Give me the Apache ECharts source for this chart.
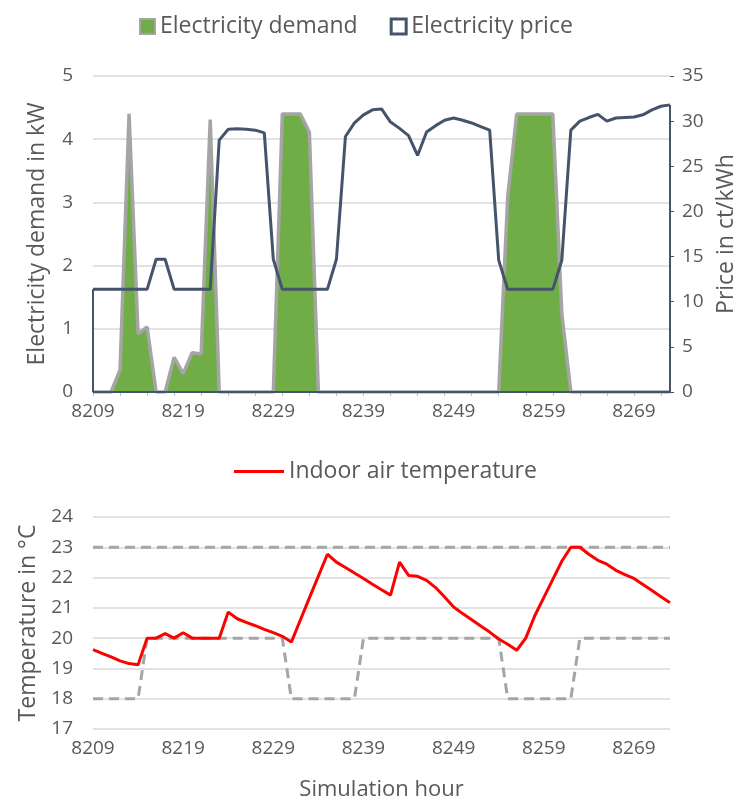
<!DOCTYPE html>
<html>
<head>
<meta charset="utf-8">
<script src="https://cdn.jsdelivr.net/npm/echarts@6/dist/echarts.min.js"></script>
<style>
html,body{margin:0;padding:0;background:#fff;}
#chart{width:752px;height:802px;}
</style>
</head>
<body>
<div id="chart"></div>
<script>
// ---- data ----
const firstHour = 8209;
const lastHour = 8273;
const hours = [];
for (let h = firstHour; h <= lastHour; h++) hours.push(String(h));

// Electricity demand in kW (8209..8273)
const demand = [
  0, 0, 0, 0.35, 4.40, 0.92, 1.03, 0, 0, 0.55,
  0.29, 0.62, 0.60, 4.31, 0, 0, 0, 0, 0, 0,
  0, 4.40, 4.40, 4.40, 4.11, 0, 0, 0, 0, 0,
  0, 0, 0, 0, 0, 0, 0, 0, 0, 0,
  0, 0, 0, 0, 0, 0, 3.09, 4.40, 4.40, 4.40,
  4.40, 4.40, 1.24, 0, 0, 0, 0, 0, 0, 0,
  0, 0, 0, 0, 0
];

// Electricity price in ct/kWh
const price = [
  11.37, 11.37, 11.37, 11.37, 11.37, 11.37, 11.37, 14.7, 14.7, 11.37,
  11.37, 11.37, 11.37, 11.37, 27.9, 29.1, 29.15, 29.1, 29.0, 28.7,
  14.7, 11.37, 11.37, 11.37, 11.37, 11.37, 11.37, 14.7, 28.3, 29.8,
  30.7, 31.25, 31.35, 29.9, 29.2, 28.4, 26.2, 28.8, 29.5, 30.1,
  30.35, 30.1, 29.8, 29.4, 29.0, 14.6, 11.37, 11.37, 11.37, 11.37,
  11.37, 11.37, 14.6, 29.0, 30.0, 30.4, 30.75, 30.0, 30.35, 30.4,
  30.45, 30.7, 31.25, 31.65, 31.8
];

// Indoor air temperature in °C
const temperature = [
  19.62, 19.5, 19.38, 19.25, 19.16, 19.12, 20.0, 20.0, 20.15, 20.0,
  20.18, 20.0, 20.0, 20.0, 20.0, 20.86, 20.64, 20.52, 20.41, 20.29,
  20.18, 20.06, 19.87, 20.6, 21.33, 22.05, 22.77, 22.51, 22.33, 22.15,
  21.97, 21.78, 21.6, 21.42, 22.51, 22.07, 22.04, 21.91, 21.67, 21.36,
  21.03, 20.81, 20.61, 20.4, 20.2, 19.97, 19.8, 19.6, 20.0, 20.74,
  21.34, 21.94, 22.54, 23.0, 23.0, 22.77, 22.57, 22.44, 22.24, 22.1,
  21.97, 21.77, 21.57, 21.37, 21.17
];

// Comfort band bounds in °C
const upperBound = [
  23, 23, 23, 23, 23, 23, 23, 23, 23, 23,
  23, 23, 23, 23, 23, 23, 23, 23, 23, 23,
  23, 23, 23, 23, 23, 23, 23, 23, 23, 23,
  23, 23, 23, 23, 23, 23, 23, 23, 23, 23,
  23, 23, 23, 23, 23, 23, 23, 23, 23, 23,
  23, 23, 23, 23, 23, 23, 23, 23, 23, 23,
  23, 23, 23, 23, 23
];
const lowerBound = [
  18, 18, 18, 18, 18, 18, 20, 20, 20, 20,
  20, 20, 20, 20, 20, 20, 20, 20, 20, 20,
  20, 20, 18, 18, 18, 18, 18, 18, 18, 18,
  20, 20, 20, 20, 20, 20, 20, 20, 20, 20,
  20, 20, 20, 20, 20, 20, 18, 18, 18, 18,
  18, 18, 18, 18, 20, 20, 20, 20, 20, 20,
  20, 20, 20, 20, 20
];

const demandTicks = [0, 5, 1];      // min, max, interval
const priceTicks = [0, 35, 5];
const tempTicks = [17, 24, 1];

// ---- chart ----
const FONT = 'Open Sans';
const TXT = '#595959';
const GRID = '#D9D9D9';
const NAVY = '#44546A';
const chart = echarts.init(document.getElementById('chart'), null, {renderer: 'canvas'});

const lastIdx = hours.length - 1;

chart.setOption({
  animation: false,
  textStyle: {fontFamily: FONT, color: TXT},
  legend: [
    {
      left: 134, top: 10,
      itemWidth: 15, itemHeight: 15, itemGap: 32,
      icon: 'rect',
      textStyle: {fontFamily: FONT, fontSize: 23, color: TXT},
      data: [
        {name: 'Electricity demand', itemStyle: {color: '#70AD47', borderColor: '#A5A5A5', borderWidth: 2}},
        {name: 'Electricity price', itemStyle: {color: '#ffffff', borderColor: NAVY, borderWidth: 3}}
      ]
    },
    {
      left: 229, top: 455,
      itemWidth: 50, itemHeight: 14,
      textStyle: {fontFamily: FONT, fontSize: 23, color: TXT},
      data: [{name: 'Indoor air temperature', icon: 'path://M0,6 L50,6 L50,9 L0,9 Z', itemStyle: {color: '#FF0000'}}]
    }
  ],
  grid: [
    {left: 93, right: 82, top: 76, height: 316},
    {left: 93, right: 82, top: 517, height: 212}
  ],
  xAxis: [
    {
      type: 'category', gridIndex: 0, data: hours, boundaryGap: false,
      axisLine: {lineStyle: {color: '#6B7A90', width: 1.5}},
      axisTick: {show: true, interval: 2, length: 4, lineStyle: {color: '#BFBFBF', width: 1}},
      axisLabel: {interval: 9, fontSize: 19, color: TXT, margin: 10, fontFamily: FONT},
      splitLine: {show: false}
    },
    {
      type: 'category', gridIndex: 1, data: hours, boundaryGap: false,
      axisLine: {show: false},
      axisTick: {show: false},
      axisLabel: {interval: 9, fontSize: 19, color: TXT, margin: 10, fontFamily: FONT},
      splitLine: {show: false},
      name: 'Simulation hour', nameLocation: 'middle', nameGap: 50,
      nameTextStyle: {fontSize: 22, color: TXT, fontFamily: FONT}
    }
  ],
  yAxis: [
    {
      type: 'value', gridIndex: 0, position: 'left',
      min: demandTicks[0], max: demandTicks[1], interval: demandTicks[2],
      axisLine: {show: false}, axisTick: {show: false},
      axisLabel: {fontSize: 19, color: TXT, margin: 20, fontFamily: FONT},
      splitLine: {lineStyle: {color: GRID, width: 1.5}},
      name: 'Electricity demand in kW', nameLocation: 'middle', nameGap: 44,
      nameTextStyle: {fontSize: 23, color: TXT, fontFamily: FONT}
    },
    {
      type: 'value', gridIndex: 0, position: 'right',
      min: priceTicks[0], max: priceTicks[1], interval: priceTicks[2],
      axisLine: {show: false},
      axisTick: {show: true, length: 4, lineStyle: {color: NAVY, width: 1}},
      axisLabel: {fontSize: 19, color: TXT, margin: 12, fontFamily: FONT},
      splitLine: {show: false},
      name: 'Price in ct/kWh', nameLocation: 'middle', nameGap: 28, nameRotate: 90,
      nameTextStyle: {fontSize: 23, color: TXT, fontFamily: FONT}
    },
    {
      type: 'value', gridIndex: 1, position: 'left',
      min: tempTicks[0], max: tempTicks[1], interval: tempTicks[2],
      axisLine: {show: false}, axisTick: {show: false},
      axisLabel: {fontSize: 19, color: TXT, margin: 20, fontFamily: FONT},
      splitLine: {lineStyle: {color: GRID, width: 1.5}},
      name: 'Temperature in °C', nameLocation: 'middle', nameGap: 44,
      nameTextStyle: {fontSize: 23, color: TXT, fontFamily: FONT}
    }
  ],
  series: [
    {
      name: 'Electricity demand', type: 'line', xAxisIndex: 0, yAxisIndex: 0,
      data: demand, showSymbol: false, symbol: 'none',
      lineStyle: {color: '#A5A5A5', width: 3.5},
      areaStyle: {color: '#70AD47', opacity: 1},
      itemStyle: {color: '#70AD47'},
      z: 2
    },
    {
      name: 'Electricity price', type: 'line', xAxisIndex: 0, yAxisIndex: 1,
      data: price, showSymbol: false, symbol: 'none',
      lineStyle: {color: NAVY, width: 3},
      itemStyle: {color: NAVY},
      z: 3,
      markLine: {
        silent: true, symbol: 'none', label: {show: false},
        lineStyle: {color: NAVY, width: 2, type: 'solid'},
        data: [
          [{coord: [hours[0], 0]}, {coord: [hours[0], price[0]]}],
          [{coord: [hours[lastIdx], 0]}, {coord: [hours[lastIdx], price[lastIdx]]}],
          [{coord: [hours[0], 0]}, {coord: [hours[lastIdx], 0]}]
        ]
      }
    },
    {
      name: 'Upper bound', type: 'line', xAxisIndex: 1, yAxisIndex: 2,
      data: upperBound, showSymbol: false, symbol: 'none',
      lineStyle: {color: '#A5A5A5', width: 3, type: [10, 6]},
      z: 2
    },
    {
      name: 'Lower bound', type: 'line', xAxisIndex: 1, yAxisIndex: 2,
      data: lowerBound, showSymbol: false, symbol: 'none',
      lineStyle: {color: '#A5A5A5', width: 3, type: [10, 6]},
      z: 2
    },
    {
      name: 'Indoor air temperature', type: 'line', xAxisIndex: 1, yAxisIndex: 2,
      data: temperature, showSymbol: false, symbol: 'none',
      lineStyle: {color: '#FF0000', width: 3},
      itemStyle: {color: '#FF0000'},
      z: 4
    }
  ]
});
</script>
</body>
</html>
